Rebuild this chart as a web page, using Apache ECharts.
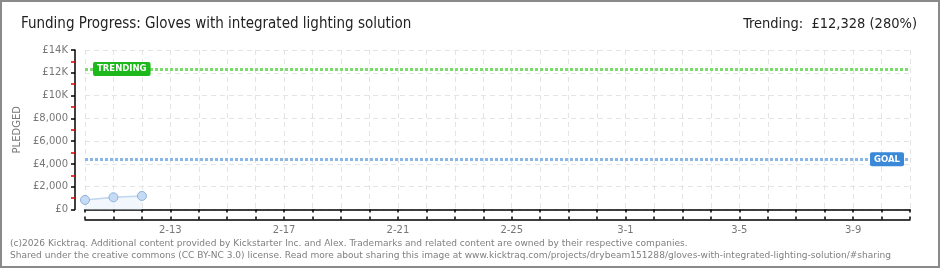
<!DOCTYPE html>
<html><head><meta charset="utf-8">
<script src="https://cdn.jsdelivr.net/npm/echarts@6/dist/echarts.min.js"></script>
<style>
html,body{margin:0;padding:0;background:#fff;}
#wrap{position:relative;width:940px;height:268px;box-sizing:border-box;border:2px solid #8a8a8a;background:#fff;}
#chart{position:absolute;left:-2px;top:-2px;width:940px;height:268px;}
.foot{position:absolute;left:8px;font-family:"DejaVu Sans",sans-serif;font-size:9.05px;color:#7f7f7f;white-space:nowrap;}
</style></head>
<body><div id="wrap"><div id="chart"></div>
<div class="foot" style="top:236px">(c)2026 Kicktraq. Additional content provided by Kickstarter Inc. and Alex. Trademarks and related content are owned by their respective companies.</div>
<div class="foot" style="top:248px">Shared under the creative commons (CC BY-NC 3.0) license. Read more about sharing this image at www.kicktraq.com/projects/drybeam151288/gloves-with-integrated-lighting-solution/#sharing</div>
</div>
<script>
const categories = ['2-10','2-11','2-12','2-13','2-14','2-15','2-16','2-17','2-18','2-19','2-20','2-21','2-22','2-23','2-24','2-25','2-26','2-27','2-28','3-1','3-2','3-3','3-4','3-5','3-6','3-7','3-8','3-9','3-10','3-11'];
const pledged = [840, 1070, 1190];
const goalValue = 4403;
const trendingValue = 12328;
const titleText = 'Funding Progress: Gloves with integrated lighting solution';
const trendText = 'Trending:  £12,328 (280%)';

const chart = echarts.init(document.getElementById('chart'), null, {renderer:'canvas'});
const labelFont = '"DejaVu Sans", sans-serif';
function yFmt(v){ if (v >= 10000) return '£' + (v/1000) + 'K'; return '£' + v.toLocaleString('en-US'); }
const xBase = {
  type:'category', data:categories, boundaryGap:false, position:'bottom', offset:10,
  axisLine:{lineStyle:{color:'#000', width:1.5}},
};
chart.setOption({
  animation:false,
  title:[
    {text:titleText, left:16, top:12, textStyle:{fontFamily:'"Liberation Sans Narrow","DejaVu Sans Condensed",sans-serif', fontSize:15, fontWeight:'normal', color:'#222'}},
    {text:trendText, right:18, top:12, textStyle:{fontFamily:'"Liberation Sans Narrow","DejaVu Sans Condensed",sans-serif', fontSize:14.5, fontWeight:'normal', color:'#222'}}
  ],
  grid:{left:85, right:30, top:50, bottom:58.5, containLabel:false},
  xAxis:[
    Object.assign({}, xBase, {
      axisTick:{show:true, interval:0, length:3, lineStyle:{color:'#000', width:1.5}},
      axisLabel:{interval:(i)=> (i-3)%4===0 && i>=3, color:'#777', fontFamily:labelFont, fontSize:10, margin:6},
      splitLine:{show:true, interval:0, lineStyle:{color:'#e4e4e4', type:[5,4]}}
    }),
    Object.assign({}, xBase, {
      axisTick:{show:true, inside:true, interval:0, length:3, lineStyle:{color:'#000', width:1.5}},
      axisLabel:{show:false}, splitLine:{show:false}
    })
  ],
  yAxis:{
    type:'value', min:0, max:14000, interval:2000, offset:10,
    name:'PLEDGED', nameLocation:'middle', nameGap:46, nameRotate:90,
    nameTextStyle:{color:'#777', fontFamily:labelFont, fontSize:10, letterSpacing:1.5},
    axisLine:{show:true, lineStyle:{color:'#000', width:1.5}},
    axisTick:{show:true, length:4, lineStyle:{color:'#000', width:1.5}},
    minorTick:{show:true, splitNumber:2, length:4, lineStyle:{color:'#e00000', width:1.5}},
    axisLabel:{formatter:yFmt, color:'#777', fontFamily:labelFont, fontSize:10, margin:7},
    splitLine:{show:true, lineStyle:{color:'#e4e4e4', type:[5,4]}}
  },
  series:[{
    type:'line', data:pledged, symbol:'circle', symbolSize:9,
    itemStyle:{color:'#c6dcf6', borderColor:'#8fb0d9', borderWidth:1},
    lineStyle:{color:'#c0d6f0', width:1.5},
    areaStyle:{color:'#ebf3fc'},
    z:3,
    markLine:{
      silent:true, symbol:['none','none'], label:{show:false},
      data:[
        {yAxis:trendingValue, lineStyle:{color:'#7cdb6c', width:3, type:[3,2]}},
        {yAxis:goalValue, lineStyle:{color:'#88b7ea', width:3, type:[3,2]}}
      ]
    },
    markPoint:{
      silent:true, symbol:'rect', symbolSize:0,
      data:[
        {coord:[0, trendingValue], label:{show:true, position:'right', distance:8, formatter:'TRENDING', color:'#fff', backgroundColor:'#1cb81c', borderRadius:2, padding:[3,4,2,4], fontFamily:labelFont, fontSize:8.5, fontWeight:'bold', letterSpacing:0.3}},
        {coord:[categories.length-1, goalValue], label:{show:true, position:'left', distance:6, formatter:'GOAL', color:'#fff', backgroundColor:'#3a88d8', borderRadius:2, padding:[3,4,2,4], fontFamily:labelFont, fontSize:8.5, fontWeight:'bold', letterSpacing:0.3}}
      ]
    }
  }]
});
</script></body></html>
